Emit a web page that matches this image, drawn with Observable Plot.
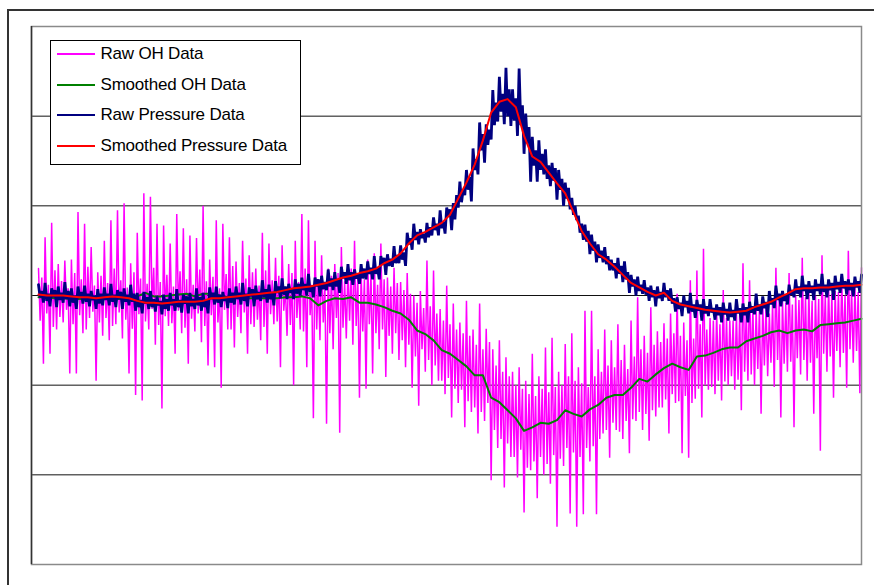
<!DOCTYPE html>
<html><head><meta charset="utf-8">
<script src="https://cdn.jsdelivr.net/npm/d3@7"></script>
<script src="https://cdn.jsdelivr.net/npm/@observablehq/plot@0.6"></script>
<style>
body{margin:0;background:#fff;}
#wrap{position:relative;width:874px;height:585px;overflow:hidden;font-family:"Liberation Sans",Arial,sans-serif;}
#outer{position:absolute;left:7px;top:9px;width:900px;height:620px;border:2px solid #333;box-sizing:border-box;}
#chart{position:absolute;left:0;top:0;}
#legend{position:absolute;left:49.5px;top:40px;width:251px;height:124.5px;border:1.5px solid #000;background:#fff;box-sizing:border-box;}
.row{position:absolute;left:6px;height:20px;display:flex;align-items:center;}
.sw{width:38px;height:0;border-top:2px solid;margin-right:6px;}
.lab{font-size:17px;color:#000;white-space:pre;letter-spacing:-0.2px;}
</style></head>
<body>
<div id="wrap"><div id="outer"></div><div id="chart"></div><div id="legend"></div></div>
<script>
// Raw OH signal, one reading every 2 s (t = 0 … 1000)
const rawOH = [
330,272,320,224, 365,280,312,235, 381,265,328,262, 335,276,316,270, 339,284,308,213,
340,268,325,213, 393,278,318,258, 380,262,332,275, 354,282,311,205, 326,270,322,255,
361,275,314,250, 384,266,330,268, 395,281,317,252, 403,273,309,213, 336,263,326,189,
370,279,319,183, 414,271,313,262, 410,285,331,245, 380,267,315,174, 378,277,323,266,
358,269,310,235, 391,283,327,258, 375,264,318,224, 367,274,312,260, 364,280,329,248,
400,266,316,222, 340,278,321,220, 384,270,308,197, 380,284,324,262, 365,262,333,242,
338,276,314,258, 361,281,319,235, 345,268,326,265, 330,273,311,250, 370,265,328,235,
358,279,317,268, 342,271,322,220, 356,283,309,255, 335,267,325,200, 361,275,315,262,
391,260,330,220, 384,278,312,163, 361,262,318,250, 345,270,310,157, 330,258,322,240,
335,275,325,147, 354,264,316,252, 330,272,330,245, 361,266,320,186, 325,260,318,196,
340,268,324,213, 347,258,312,240, 358,262,318,209, 320,255,310,235, 331,258,314,228,
315,250,306,220, 325,245,302,197, 300,232,292,177, 305,240,286,215, 339,228,288,200,
328,222,280,205, 285,205,272,190, 311,208,268,164, 291,196,262,180, 270,195,258,153,
294,182,255,170, 262,175,245,146, 291,170,240,160, 263,180,248,94,  240,150,222,130,
250,140,215,86,  231,135,210,120, 215,120,200,97,  220,128,196,58,  205,108,190,105,
235,115,188,74,  210,120,196,100, 242,112,192,90,  253,122,198,42,  215,118,200,110,
246,130,210,57,  258,125,205,42,  220,120,202,56,  283,130,198,115, 283,132,210,56,
240,140,215,146, 262,150,222,119, 250,158,220,150, 268,148,228,140, 245,160,218,124,
272,162,232,160, 298,170,240,150, 255,168,236,138, 287,172,245,165, 260,175,248,175,
269,184,252,146, 280,190,258,180, 302,182,255,124, 270,188,250,119, 317,180,252,185,
328,196,268,164, 352,200,262,195, 275,198,272,190, 282,205,268,183, 306,204,275,200,
272,210,272,195, 280,206,278,172, 336,215,282,205, 317,212,286,200, 285,218,285,168,
290,222,290,210, 280,225,292,198, 331,228,296,164, 295,224,292,215, 325,226,290,153,
300,230,295,212, 342,228,298,205, 305,225,294,168, 300,230,296,127, 345,235,300,215,
310,232,302,186, 305,238,304,220, 320,236,300,197, 350,240,306,225, 310,238,304,191,
331];
// Raw pressure signal, one reading every 2 s
const rawP = [
312,298,305,292, 314,294,302,288, 308,298,306,287, 310,295,303,292, 315,296,305,288,
308,292,300,285, 310,297,304,291, 311,293,302,288, 305,295,300,285, 307,291,302,289,
309,295,302,289, 313,293,301,287, 306,296,304,285, 308,293,301,289, 312,293,302,283,
303,287,295,280, 304,291,298,285, 305,287,296,282, 299,289,294,279, 301,285,296,283,
303,289,296,283, 307,287,295,281, 301,291,299,280, 303,288,296,285, 308,289,298,283,
303,287,295,280, 309,296,303,290, 310,292,301,287, 304,294,299,286, 308,292,303,290,
310,296,303,290, 314,294,302,288, 309,299,307,288, 311,296,304,294, 317,298,307,292,
312,296,304,289, 316,303,310,297, 319,301,310,296, 313,303,308,296, 318,302,313,300,
320,306,313,300, 324,304,311,298, 320,310,318,299, 322,307,315,306, 329,310,319,306,
326,310,318,303, 332,319,326,313, 335,317,326,312, 329,319,324,313, 335,319,330,318,
338,324,331,318, 344,324,331,318, 344,334,342,323, 346,333,341,332, 355,336,345,336,
356,340,348,333, 370,357,364,351, 380,362,371,357, 374,364,369,359, 381,365,376,367,
387,373,380,367, 395,375,382,369, 398,388,396,373, 403,385,412,398, 427,404,418,412,
440,418,432,405, 464,440,452,435, 493,462,480,448, 491,468,485,474, 529,490,515,494,
544,505,525,491, 554,500,530,489, 530,495,520,478, 553,490,512,458, 503,470,488,427,
477,445,462,427, 473,440,458,435, 463,430,445,422, 448,428,442,407, 440,418,430,400,
426,408,420,396, 409,390,400,384, 389,370,380,362, 379,360,372,346, 368,350,360,337,
357,342,350,337, 354,335,344,328, 340,328,336,319, 342,324,333,315, 338,318,326,303,
323,310,318,300, 321,305,312,302, 317,301,309,294, 311,298,306,288, 310,297,304,294,
314,298,306,294, 308,291,297,282, 298,285,292,277, 300,287,294,280, 303,282,290,275,
295,283,290,272, 296,280,288,277, 296,281,286,273, 290,278,287,270, 292,279,285,272,
292,276,284,272, 296,280,286,270, 291,278,287,270, 293,281,288,279, 302,283,290,279,
299,286,293,276, 305,290,297,286, 311,295,302,288, 305,294,301,290, 312,301,306,298,
318,302,310,298, 322,305,312,296, 316,303,311,295, 318,305,313,301, 324,304,312,298,
318,306,314,295, 322,307,315,303, 324,308,316,301, 318,306,314,299, 321,309,316,303,
323];
// Smoothed OH, every 10 s
const smoothOH = [
298,298,297,297,296,296,296,296,296,296,
296,297,299,303,299,299,300,301,302,299,
302,302,300,298,298,297,297,297,297,297,
298,298,299,297,289,294,297,296,298,292,
292,290,287,283,280,273,261,257,250,239,
235,228,221,211,211,186,181,172,163,149,
153,158,157,161,172,168,165,173,178,186,
189,189,197,207,204,212,219,224,220,217,
232,233,236,240,242,242,249,252,255,259,
261,258,261,262,260,267,268,269,270,272,
274];
// Smoothed pressure, every 10 s
const smoothP = [
301,300,300,300,299,298,298,297,298,299,
298,297,294,292,292,291,292,293,293,293,
294,297,297,298,299,300,301,302,303,304,
306,308,309,310,312,314,317,320,322,325,
327,330,336,340,347,358,367,371,376,381,
390,408,426,446,473,504,516,519,510,478,
455,449,437,425,414,393,372,358,346,340,
332,323,314,309,304,300,303,294,290,288,
286,284,283,282,281,282,283,287,290,293,
298,302,307,308,308,309,309,310,311,311,
312];
const rawInterval = 2, smoothInterval = 10;
const gridValues = [100,200,300,400,500];
const seriesNames = ["Raw OH Data","Smoothed OH Data","Raw Pressure Data","Smoothed Pressure Data"];
const seriesColors = ["#ff00ff","#008000","#000080","#ff0000"];

const rows = (arr, dt) => arr.map((v, i) => ({t: i * dt, v}));

const svg = Plot.plot({
  width: 874, height: 585,
  marginLeft: 31, marginRight: 13, marginTop: 26, marginBottom: 21,
  style: {background: "transparent"},
  x: {domain: [-8.5, 1000], axis: null},
  y: {domain: [0, 600], axis: null},
  marks: [
    Plot.ruleY(gridValues, {stroke: "#111", strokeWidth: 1}),
    Plot.line(rows(rawOH, rawInterval), {x: "t", y: "v", stroke: seriesColors[0], strokeWidth: 1.5, strokeLinejoin: "miter"}),
    Plot.line(rows(smoothOH, smoothInterval), {x: "t", y: "v", stroke: seriesColors[1], strokeWidth: 2}),
    Plot.line(rows(rawP, rawInterval), {x: "t", y: "v", stroke: seriesColors[2], strokeWidth: 2.8, strokeLinejoin: "miter"}),
    Plot.line(rows(smoothP, smoothInterval), {x: "t", y: "v", stroke: seriesColors[3], strokeWidth: 2}),
    Plot.frame({stroke: "#8a8a8a", strokeWidth: 1.5}),
    Plot.ruleX([-8.5], {stroke: "#333", strokeWidth: 1.5})
  ]
});
document.getElementById("chart").appendChild(svg);

const leg = document.getElementById("legend");
const tops = [3.2, 33.8, 64.4, 95];
seriesNames.forEach((name, i) => {
  const r = document.createElement("div");
  r.className = "row";
  r.style.top = tops[i] + "px";
  r.innerHTML = `<div class="sw" style="border-color:${seriesColors[i]}"></div><span class="lab">${name}</span>`;
  leg.appendChild(r);
});
</script>
</body></html>
